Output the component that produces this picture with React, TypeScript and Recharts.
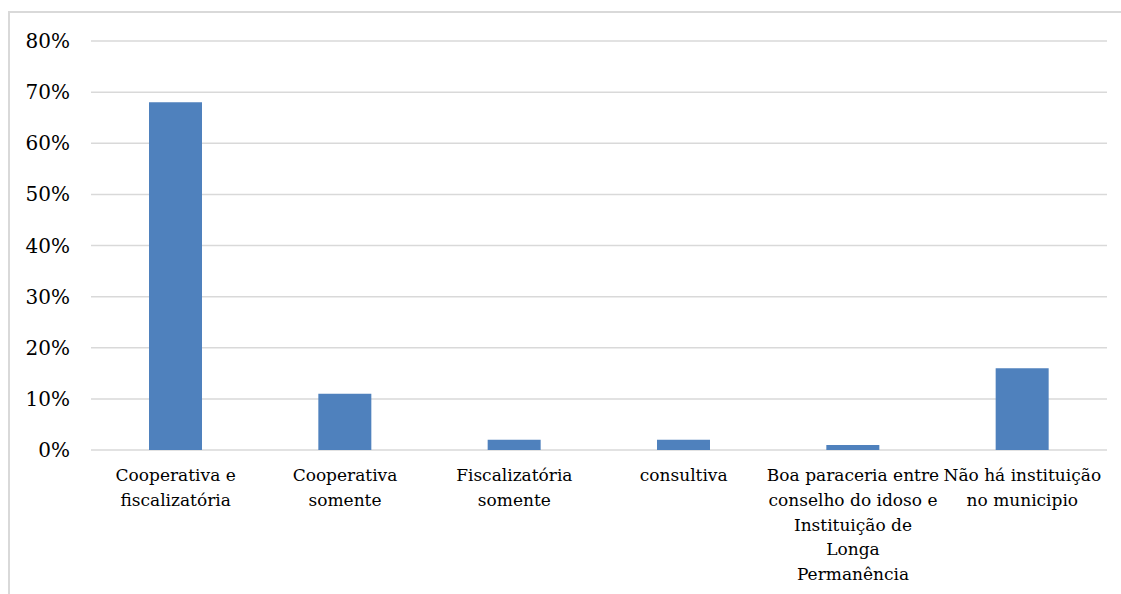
import React from "react";
import { BarChart, Bar, XAxis, YAxis, CartesianGrid } from "recharts";

const categories = [
  "Cooperativa e\nfiscalizatória",
  "Cooperativa\nsomente",
  "Fiscalizatória\nsomente",
  "consultiva",
  "Boa paraceria entre\nconselho do idoso e\nInstituição de\nLonga\nPermanência",
  "Não há instituição\nno municipio",
];
const values = [0.68, 0.11, 0.02, 0.02, 0.01, 0.16];
const yTicks = [0, 0.1, 0.2, 0.3, 0.4, 0.5, 0.6, 0.7, 0.8];

const data = categories.map((c, i) => ({ name: c, value: values[i] }));

const FONT = "'DejaVu Serif', serif";

const CatTick = (props: any) => {
  const { x, y, payload } = props;
  const lines = String(payload.value).split("\n");
  return (
    <text x={x} y={y} textAnchor="middle" fontFamily={FONT} fontSize={17} fill="#000">
      {lines.map((l, i) => (
        <tspan key={i} x={x} dy={i === 0 ? 31 : 24.8}>
          {l}
        </tspan>
      ))}
    </text>
  );
};

const ValTick = (props: any) => {
  const { x, y, payload } = props;
  return (
    <text x={x} y={y + 7} textAnchor="end" fontFamily={FONT} fontSize={20} fill="#000">
      {`${Math.round(payload.value * 100)}%`}
    </text>
  );
};

export default function App() {
  return (
    <div style={{ position: "fixed", left: 0, top: 0, width: 1121, height: 594, overflow: "hidden", background: "#fff" }}>
      <div
        style={{
          position: "absolute",
          left: 8,
          top: 11,
          width: 1300,
          height: 800,
          borderLeft: "2px solid #d9d9d9",
          borderTop: "2px solid #d9d9d9",
          boxSizing: "border-box",
        }}
      />
      <div style={{ position: "absolute", left: 0, top: 0 }}>
        <BarChart width={1121} height={594} data={data} margin={{ top: 41, right: 14, bottom: 0, left: 0 }}>
          <CartesianGrid horizontal vertical={false} stroke="#d9d9d9" strokeWidth={1.5} />
          <XAxis
            dataKey="name"
            axisLine={false}
            tickLine={false}
            tickSize={0}
            tickMargin={0}
            height={144}
            interval={0}
            tick={<CatTick />}
          />
          <YAxis
            domain={[0, 0.8]}
            ticks={yTicks}
            axisLine={false}
            tickLine={false}
            tickSize={0}
            tickMargin={21}
            width={91}
            tick={<ValTick />}
          />
          <Bar dataKey="value" fill="#4F81BD" barSize={53} isAnimationActive={false} />
        </BarChart>
      </div>
    </div>
  );
}
